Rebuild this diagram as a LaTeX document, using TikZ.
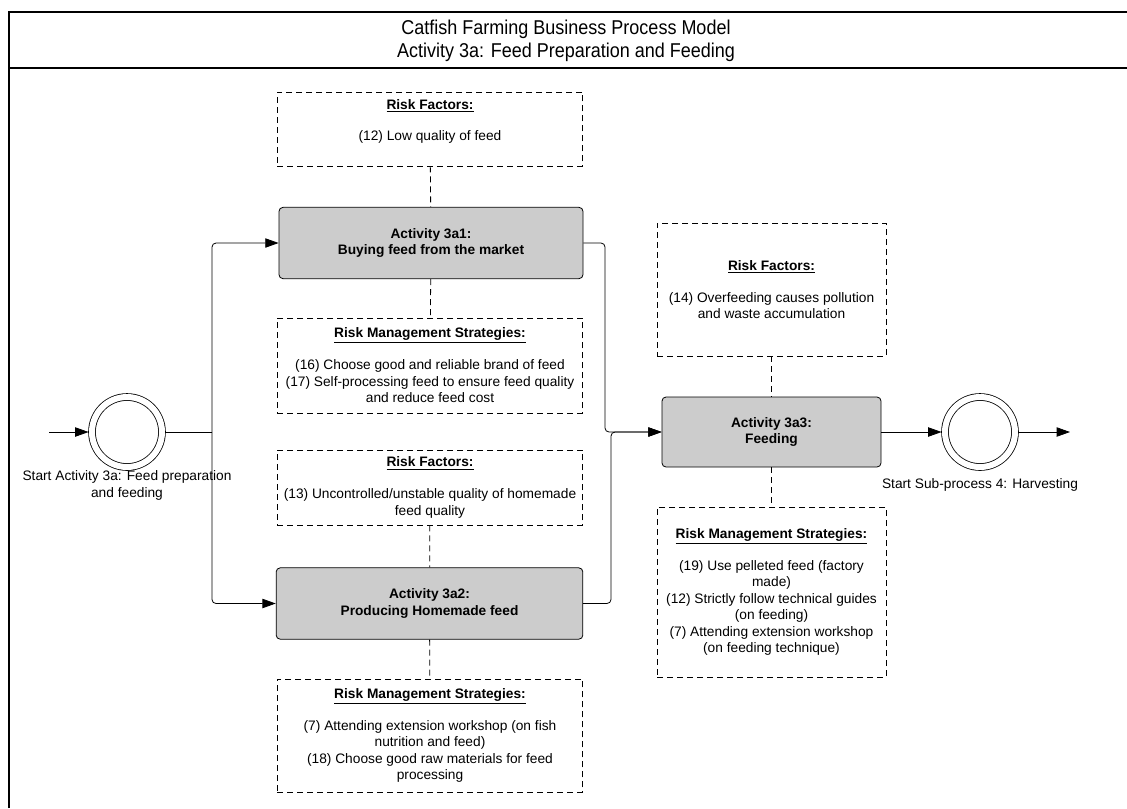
\documentclass[tikz,border=0pt]{standalone}
\usepackage{fontspec}
\setmainfont{Liberation Sans}
\newfontfamily\titlefont[FakeStretch=0.9]{Liberation Sans}
\usetikzlibrary{arrows.meta,positioning}
\definecolor{ActGray}{RGB}{204,204,204}
\tikzset{
  rfbox/.style={draw,line width=0.6pt,dash pattern=on 4.5pt off 3pt,minimum width=229pt,align=center,font=\fontsize{10.3}{12.4}\selectfont},
  actbox/.style={draw,line width=0.6pt,fill=ActGray,rounded corners=3pt,minimum width=228pt,minimum height=53.5pt,align=center,font=\fontsize{10.3}{12.4}\selectfont\bfseries},
  evt/.style={circle,draw,line width=0.6pt,double,double distance=4.5pt,minimum size=52.5pt,outer sep=2.6pt},
  evlabel/.style={align=center,font=\fontsize{10.3}{12.4}\selectfont,inner sep=0pt},
  titletext/.style={font=\titlefont\fontsize{15}{18}\selectfont,inner sep=0pt},
  arr/.style={line width=0.6pt,-{Triangle[length=10pt,width=7pt]},rounded corners=3pt},
  dlink/.style={line width=0.6pt,dash pattern=on 4.5pt off 3pt},
}
\newcommand{\rhead}[1]{\underline{\textbf{#1}}}

\begin{document}
\begin{tikzpicture}[x=0.75pt,y=-0.75pt]
  \useasboundingbox (0,0) rectangle (1127,808);
  %% Frame and title
  \draw[line width=1.1pt] (9,808) -- (9,12) -- (1127,12);
  \draw[line width=1.1pt] (9,68) -- (1127,68);
  \node[titletext] (title) at (566,29) {Catfish Farming Business Process Model};
  \node[titletext] (subtitle) at (566,52) {Activity 3a: Feed Preparation and Feeding};

  %% Left column
  \node[rfbox,minimum height=55.5pt] (rf1) at (430,129)
    {\rhead{Risk Factors:}\\[11.5pt](12) Low quality of feed\\[1pt]\mbox{}};
  \node[actbox] (act1) at (431,243) {Activity 3a1:\\Buying feed from the market};
  \node[rfbox,minimum height=71.25pt] (rms1) at (430,365.5)
    {\rhead{Risk Management Strategies:}\\[11.5pt](16) Choose good and reliable brand of feed\\(17) Self-processing feed to ensure feed quality\\and reduce feed cost};
  \node[rfbox,minimum height=56.25pt] (rf2) at (430,487.5)
    {\rhead{Risk Factors:}\\[11.5pt](13) Uncontrolled/unstable quality of homemade\\feed quality};
  \node[actbox,minimum width=230pt] (act2) at (429.5,603.5) {Activity 3a2:\\Producing Homemade feed};
  \node[rfbox,minimum height=84.75pt] (rms2) at (430,735.5)
    {\rhead{Risk Management Strategies:}\\[11.5pt](7) Attending extension workshop (on fish\\nutrition and feed)\\(18) Choose good raw materials for feed\\processing};

  %% Right column
  \node[rfbox,minimum width=171.75pt,minimum height=99.75pt] (rf3) at (771.5,289.5)
    {\rhead{Risk Factors:}\\[11.5pt](14) Overfeeding causes pollution\\and waste accumulation};
  \node[actbox,minimum width=164.25pt,minimum height=52.5pt] (act3) at (771.5,432) {Activity 3a3:\\Feeding};
  \node[rfbox,minimum width=171.75pt,minimum height=127.5pt] (rms3) at (771.5,592)
    {\rhead{Risk Management Strategies:}\\[11.5pt](19) Use pelleted feed (factory\\made)\\(12) Strictly follow technical guides\\(on feeding)\\(7) Attending extension workshop\\(on feeding technique)};

  %% Events
  \node[evt] (start) at (127,432) {};
  \node[evlabel,below=0pt of start] (startlbl) {Start Activity 3a: Feed preparation\\and feeding};
  \node[evt] (end) at (980,432) {};
  \node[evlabel,below=6pt of end] (endlbl) {Start Sub-process 4: Harvesting};

  %% Flow
  \coordinate (in) at (49,432);
  \coordinate (fork) at (212,432);
  \coordinate (join1) at (605,432);
  \coordinate (join2) at (611,432);
  \coordinate (out) at (1070,432);
  \draw[arr] (in) -- (start);
  \draw[line width=0.6pt] (start) -- (fork);
  \draw[arr] (fork) |- (act1);
  \draw[arr] (fork) |- (act2);
  \draw[arr] (act1.east) -| (join1) -- (act3.west);
  \draw[arr] (act2.east) -| (join2) -- (act3.west);
  \draw[arr] (act3) -- (end);
  \draw[arr] (end) -- (out);

  %% Risk links
  \draw[dlink] (rf1) -- (act1);
  \draw[dlink] (act1) -- (rms1);
  \draw[dlink] (rf2) -- (act2);
  \draw[dlink] (act2) -- (rms2);
  \draw[dlink] (rf3) -- (act3);
  \draw[dlink] (act3) -- (rms3);
\end{tikzpicture}
\end{document}
